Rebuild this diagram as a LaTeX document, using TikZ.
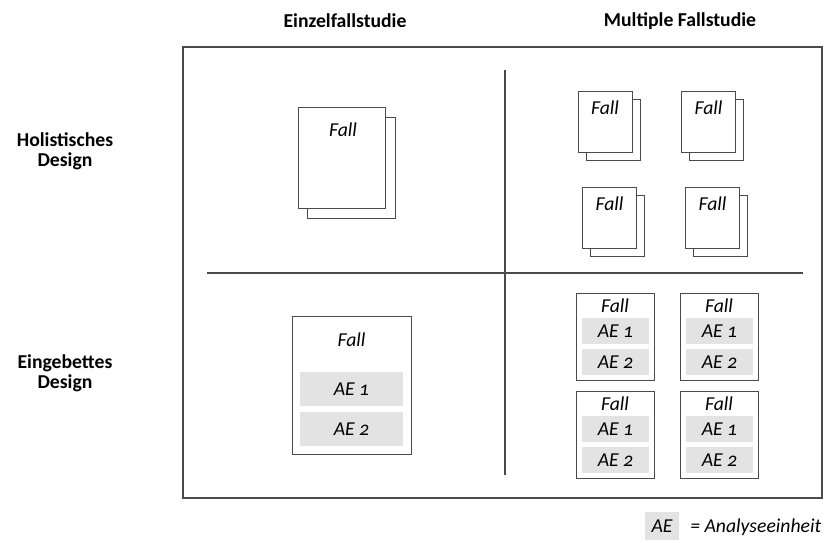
\documentclass[tikz,border=0pt]{standalone}
\usepackage{fontspec}
\setmainfont{Carlito}[Numbers=OldStyle]
\definecolor{aegrau}{HTML}{E3E3E3}
\definecolor{linie}{HTML}{4A4A4A}
\begin{document}
\begin{tikzpicture}[x=0.025cm, y=-0.025cm,
    kopf/.style={font=\fontsize{14}{14.2}\selectfont\bfseries, inner sep=0pt},
    txt/.style={font=\fontsize{14}{16}\selectfont\itshape, inner sep=0pt},
    blatt/.style={draw=linie, fill=white, line width=0.6pt, inner sep=0pt},
    ae/.style={fill=aegrau, inner sep=0pt, font=\fontsize{14}{16}\selectfont\itshape}]
    \useasboundingbox (0,0) rectangle (824,542);
    % Kopfzeilen
    \node[kopf] (einzel) at (345,21) {Einzelfallstudie};
    \node[kopf] (multi) at (680,21) {Multiple Fallstudie};
    \node[kopf, align=center] (holist) at (65,151) {Holistisches\\Design};
    \node[kopf, align=center] (eingeb) at (65,373) {Eingebettes\\Design};
    % Rahmen und Achsen
    \draw[linie, line width=1.3pt] (183,47) rectangle (822,498);
    \draw[linie, line width=1pt] (207,273) -- (803,273);
    \draw[linie, line width=1pt] (505,70) -- (505,475);
    % holistisch, einzeln
    \node[blatt, minimum width=2.2cm, minimum height=2.525cm] (backE) at (351,167.5) {};
    \node[blatt, minimum width=2.175cm, minimum height=2.525cm] (blattE) at (341.5,157.5) {};
    \node[txt] (fallE) at (343,130) {Fall};
    % holistisch, mehrere
    \foreach \x/\y/\n in {605/121.5/a, 708.5/121.5/b, 609.5/217.5/c, 712.5/217.5/d} {
        \node[blatt, minimum width=1.35cm, minimum height=1.525cm] (back\n) at (\x+8,\y+8.5) {};
        \node[blatt, minimum width=1.35cm, minimum height=1.525cm] (blatt\n) at (\x,\y) {};
        \node[txt] (fall\n) at (\x,\y-13.5) {Fall};
    }
    % eingebettet, einzeln
    \node[blatt, minimum width=2.975cm, minimum height=3.45cm] (boxE) at (351.5,385) {};
    \node[txt] (fallEE) at (351.5,340) {Fall};
    \node[ae, minimum width=2.575cm, minimum height=0.85cm] (aeE1) at (351.5,389) {AE 1};
    \node[ae, minimum width=2.575cm, minimum height=0.85cm] (aeE2) at (351.5,429) {AE 2};
    % eingebettet, mehrere
    \foreach \x/\y/\n in {615/336.5/a, 719/336.5/b, 615/434.5/c, 719/434.5/d} {
        \node[blatt, minimum width=1.95cm, minimum height=2.175cm] (box\n) at (\x,\y) {};
        \node[txt] (fallM\n) at (\x,\y-30.5) {Fall};
        \node[ae, minimum width=1.675cm, minimum height=0.65cm] (ae\n1) at (\x+0.5,\y-5.5) {AE 1};
        \node[ae, minimum width=1.675cm, minimum height=0.65cm] (ae\n2) at (\x+0.5,\y+25.5) {AE 2};
    }
    % Legende
    \node[ae, minimum width=0.85cm, minimum height=0.7cm] (legae) at (662,526) {AE};
    \node[txt, anchor=west] (legtxt) at (690,527) {= Analyseeinheit};
\end{tikzpicture}
\end{document}
